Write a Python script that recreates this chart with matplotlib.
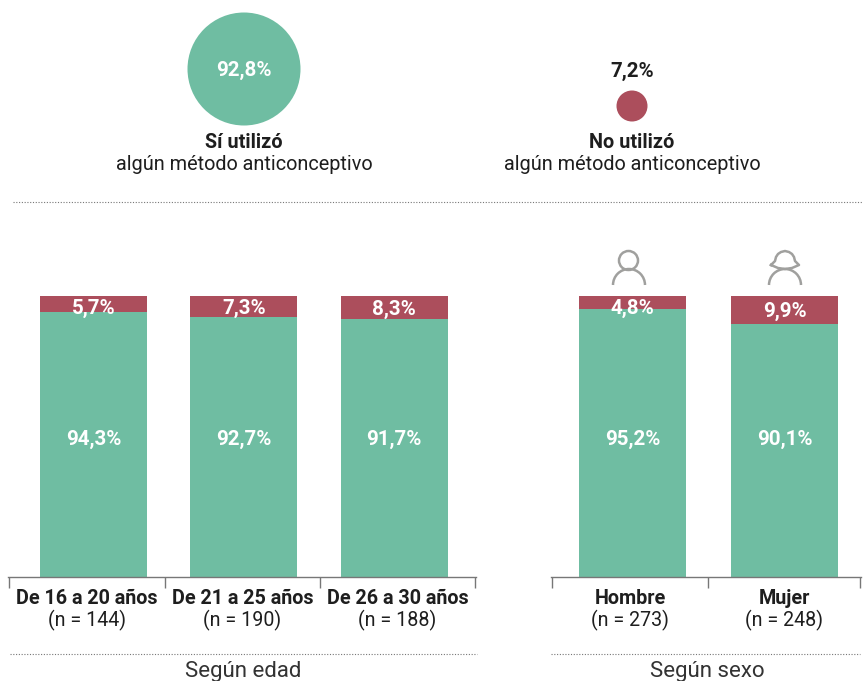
import matplotlib
matplotlib.use('AGG')
import matplotlib.pyplot as plt
from matplotlib.patches import Arc, Circle

W, H = 863, 681
GREEN = '#6FBDA2'
RED = '#AC4E5C'
ICON = '#A0A09E'
TICK = '#777777'
INK = '#1E1E1E'

age_labels = ['De 16 a 20 años', 'De 21 a 25 años', 'De 26 a 30 años']
age_n = ['(n = 144)', '(n = 190)', '(n = 188)']
age_yes = [94.3, 92.7, 91.7]
age_no = [5.7, 7.3, 8.3]

sex_labels = ['Hombre', 'Mujer']
sex_n = ['(n = 273)', '(n = 248)']
sex_yes = [95.2, 90.1]
sex_no = [4.8, 9.9]

total_yes = 92.8
total_no = 7.2

plt.rcParams['font.family'] = ['Roboto', 'DejaVu Sans']


def pct(v):
    return f'{v:.1f}%'.replace('.', ',')


fig = plt.figure(figsize=(W / 100, H / 100), dpi=100)
# overlay in pixel coordinates, for the circles, dotted rules and captions
bg = fig.add_axes([0, 0, 1, 1])
bg.set_xlim(0, W)
bg.set_ylim(H, 0)
bg.axis('off')


def bars(ax_px, first, step, ticks_px, labels, ns, yes, no):
    left, right = ax_px
    top, bottom = 296, 577
    ax = fig.add_axes([left / W, 1 - bottom / H, (right - left) / W, (bottom - top) / H])
    ax.patch.set_alpha(0)
    # the bars are not centred between the ticks, so the limits come from pixels
    ax.set_xlim((left - first) / step, (right - first) / step)
    ax.set_ylim(0, 100)
    x = list(range(len(labels)))
    ax.bar(x, yes, width=107 / step, color=GREEN)
    ax.bar(x, no, bottom=yes, width=107 / step, color=RED)
    for i in x:
        ax.text(x[i], 48.8, pct(yes[i]), color='white', ha='center', va='center',
                fontsize=14.8, fontweight='bold')
        ax.text(x[i], min(95.7, yes[i] + no[i] / 2 - 0.6), pct(no[i]), color='white', ha='center',
                va='center', fontsize=14.8, fontweight='bold')
    for s in ['top', 'left', 'right']:
        ax.spines[s].set_visible(False)
    ax.spines['bottom'].set_color(TICK)
    ax.spines['bottom'].set_linewidth(1)
    ax.set_yticks([])
    ax.set_xticks([(t - first) / step for t in ticks_px])
    ax.set_xticklabels([])
    ax.tick_params(axis='x', direction='out', length=8, width=1, color=TICK)
    # labels sit between the ticks, not under the bars
    for i in x:
        mid = ((ticks_px[i] + ticks_px[i + 1]) / 2 - first) / step
        ax.annotate(labels[i], (mid, 0), xytext=(0, -9), textcoords='offset points',
                    ha='center', va='top', fontsize=14.2, fontweight='bold', color=INK)
        ax.annotate(ns[i], (mid, 0), xytext=(0, -23.5), textcoords='offset points',
                    ha='center', va='top', fontsize=14.1, color=INK)
    return ax


bars((8, 476), 93.5, 150.4, [9, 165, 320, 475], age_labels, age_n, age_yes, age_no)
bars((551, 861), 632.5, 152, [552, 708, 860], sex_labels, sex_n, sex_yes, sex_no)

# totals on top
bg.add_patch(Circle((244, 69), 56.5, color=GREEN, lw=0))
bg.add_patch(Circle((632, 106), 15.5, color=RED, lw=0))
bg.text(244, 70, pct(total_yes), color='white', ha='center', va='center', fontsize=14.8, fontweight='bold')
bg.text(632, 71, pct(total_no), color=INK, ha='center', va='center', fontsize=14.8, fontweight='bold')
bg.text(244, 142, 'Sí utilizó', color=INK, ha='center', va='center', fontsize=14.3, fontweight='bold')
bg.text(244, 165, 'algún método anticonceptivo', color=INK, ha='center', va='center', fontsize=14.3)
bg.text(632, 142, 'No utilizó', color=INK, ha='center', va='center', fontsize=14.3, fontweight='bold')
bg.text(632, 165, 'algún método anticonceptivo', color=INK, ha='center', va='center', fontsize=14.3)

# dotted rules and captions
for x0, x1, y in [(13, 863, 202), (10, 477, 654), (551, 860, 654)]:
    bg.plot([x0, x1], [y, y], color='#777777', lw=0.8, ls=(0, (1, 1.5)))
bg.text(243, 671, 'Según edad', color='#333333', ha='center', va='center', fontsize=16)
bg.text(707, 671, 'Según sexo', color='#333333', ha='center', va='center', fontsize=16)

# person icons above the sex bars
bg.add_patch(Circle((628.5, 260.5), 9.5, fill=False, ec=ICON, lw=1.8))
bg.add_patch(Arc((629, 285), 32, 32, theta1=180, theta2=360, ec=ICON, lw=1.8))
bg.add_patch(Arc((785, 285), 32, 32, theta1=180, theta2=360, ec=ICON, lw=1.8))
bg.plot([771, 775, 776, 778, 781, 785, 789, 792, 794, 795, 799, 792, 785, 778, 771],
        [265, 261, 257, 254, 252, 251, 252, 254, 257, 261, 265, 268, 269, 268, 265],
        color=ICON, lw=1.8, solid_joinstyle='round')

fig.savefig('out.png', dpi=100)
